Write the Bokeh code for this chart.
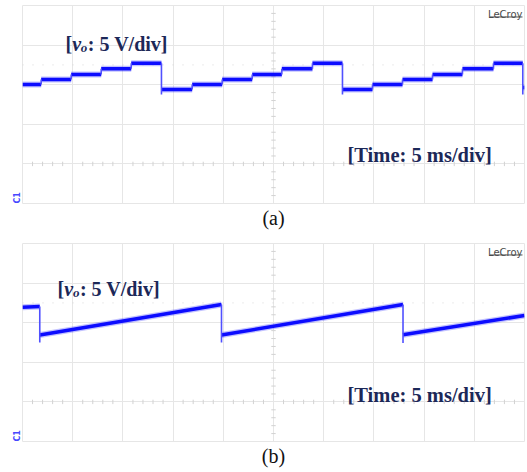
from bokeh.plotting import figure
from bokeh.models import Grid, FixedTicker, Label, Range1d, Title
from bokeh.layouts import column
from bokeh.embed import file_html
from bokeh.resources import INLINE

# ---------------- data (read from the oscilloscope captures) ----------------
time_ticks_ms = [0, 5, 10, 15, 20, 25, 30, 35, 40, 45, 50]
volt_ticks_V = [0, 5, 10, 15, 20, 25]
minor_time_ms = [t for t in range(1, 50) if t % 5 != 0]
minor_volt_V = [v for v in range(1, 25) if v % 5 != 0]
center_time_ms = 25
center_volt_V = 5
cursor_level_V = 17.5

# (a) staircase output voltage: step edges (ms) and level held between edges (V)
a_edges_ms = [0, 1.86, 4.85, 7.84, 10.83, 13.84, 16.90, 19.89, 22.88, 25.83,
              28.88, 31.87, 34.86, 37.85, 40.84, 43.82, 46.91, 49.83, 50.0]
a_levels_V = [15.03, 15.66, 16.29, 17.01, 17.71, 14.39, 15.03, 15.66, 16.29,
              17.01, 17.71, 14.39, 15.03, 15.66, 16.29, 17.01, 17.71, 14.65]
a_spike_V = 13.76  # undershoot at each large drop

# (b) sawtooth output voltage
b_start_ms, b_start_V = 0.0, 16.96
b_end_ms, b_end_V = 50.0, 15.91
b_drop_ms = [1.72, 19.82, 37.90]
b_peak_V = [17.05, 17.30, 17.30]
b_base_V = [13.45, 13.45, 13.47]
b_spike_V = [12.50, 12.50, 12.45]

# ---------------- styles ----------------
GRID = "#e6e6e6"
TICK = "#d2d2d2"
TRACE = "#0c0cff"
TRACE_THIN = "#5050ff"
NAVY = "#1c2858"
SERIF = "Liberation Serif"


def make_panel(top, bottom, caption):
    p = figure(width=527, height=236, x_range=Range1d(0, 50), y_range=Range1d(0, 25),
               x_axis_type=None, y_axis_type=None, toolbar_location=None,
               output_backend="svg", min_border_left=22, min_border_right=3,
               min_border_top=top, min_border_bottom=bottom)
    p.outline_line_color = GRID
    p.background_fill_color = "white"
    p.border_fill_color = "white"
    p.add_layout(Grid(dimension=0, ticker=FixedTicker(ticks=time_ticks_ms),
                      grid_line_color=GRID, grid_line_width=1))
    p.add_layout(Grid(dimension=1, ticker=FixedTicker(ticks=volt_ticks_V),
                      grid_line_color=GRID, grid_line_width=1))
    # graticule minor ticks on centre lines
    p.segment(x0=minor_time_ms, x1=minor_time_ms,
              y0=[center_volt_V - 0.28] * len(minor_time_ms),
              y1=[center_volt_V + 0.28] * len(minor_time_ms),
              line_color=TICK, line_width=1)
    p.segment(x0=[center_time_ms - 0.22] * len(minor_volt_V),
              x1=[center_time_ms + 0.22] * len(minor_volt_V),
              y0=minor_volt_V, y1=minor_volt_V, line_color=TICK, line_width=1)
    # faint dotted cursor level
    p.line(x=[0, 50], y=[cursor_level_V, cursor_level_V], line_color="#d6d6d6",
           line_width=1, line_dash="1 9")
    # LeCroy logo
    p.add_layout(Label(x=49.8, y=23.86, text="LeCroy", text_align="right",
                       text_baseline="alphabetic", text_font="DejaVu Sans",
                       text_font_size="10px", text_color="#4a4a4a"))
    p.segment(x0=[46.55], x1=[49.8], y0=[23.55], y1=[23.55], line_color="#4a4a4a",
              line_width=1)
    # channel marker (left of the grid)
    p.add_layout(Title(text="C1", align="left", text_font="DejaVu Sans",
                       text_font_style="bold", text_font_size="8px",
                       text_color="#4848ff", standoff=1), "left")
    # caption under the panel
    p.add_layout(Title(text=caption, align="center", text_font=SERIF,
                       text_font_style="normal", text_font_size="20px",
                       text_color="#111111", standoff=2), "below")
    return p


def vo_label(p, t, v):
    common = dict(x=t, y=v, text_font=SERIF, text_color=NAVY, text_baseline="alphabetic")
    p.add_layout(Label(text="[", text_font_size="20px", text_font_style="bold", x_offset=0, **common))
    p.add_layout(Label(text="v", text_font_size="20px", text_font_style="bold italic",
                       x_offset=6.7, **common))
    p.add_layout(Label(text="o", text_font_size="13px", text_font_style="bold italic",
                       x_offset=15.4, y_offset=-4, **common))
    p.add_layout(Label(text=": 5 V/div]", text_font_size="20px", text_font_style="bold",
                       x_offset=22.4, **common))


def time_label(p, t, v):
    p.add_layout(Label(x=t, y=v, text="[Time: 5 ms/div]", text_font=SERIF,
                       text_font_size="20.5px", text_font_style="bold", text_color=NAVY,
                       text_baseline="alphabetic"))


# ---------------- panel (a) ----------------
pa = make_panel(5, 33, "(a)")
x0 = a_edges_ms[:-1]
x1 = a_edges_ms[1:]
pa.segment(x0=x0, x1=x1, y0=a_levels_V, y1=a_levels_V, line_color=TRACE,
           line_width=6, line_alpha=0.25)
pa.segment(x0=x0, x1=x1, y0=a_levels_V, y1=a_levels_V, line_color=TRACE, line_width=3.5)
vx, vy0, vy1 = [], [], []
for i in range(len(a_levels_V) - 1):
    t = a_edges_ms[i + 1]
    lo, hi = min(a_levels_V[i], a_levels_V[i + 1]), max(a_levels_V[i], a_levels_V[i + 1])
    if a_levels_V[i + 1] < a_levels_V[i]:
        lo = a_spike_V
    vx.append(t); vy0.append(lo); vy1.append(hi)
pa.segment(x0=vx, x1=vx, y0=vy0, y1=vy1, line_color=TRACE_THIN, line_width=1.6)
vo_label(pa, 4.28, 20.14)
time_label(pa, 32.37, 6.11)

# ---------------- panel (b) ----------------
pb = make_panel(7, 31, "(b)")
rx0 = [b_start_ms] + b_drop_ms
ry0 = [b_start_V] + b_base_V
rx1 = b_drop_ms + [b_end_ms]
ry1 = b_peak_V + [b_end_V]
pb.segment(x0=rx0, x1=rx1, y0=ry0, y1=ry1, line_color=TRACE, line_width=6, line_alpha=0.25)
pb.segment(x0=rx0, x1=rx1, y0=ry0, y1=ry1, line_color=TRACE, line_width=3.5)
pb.segment(x0=b_drop_ms, x1=b_drop_ms, y0=b_spike_V, y1=b_peak_V,
           line_color=TRACE_THIN, line_width=1.6)
vo_label(pb, 3.49, 19.28)
time_label(pb, 32.37, 5.86)

layout = column(pa, pb, spacing=0)
open("out.html", "w").write(file_html(layout, INLINE))
